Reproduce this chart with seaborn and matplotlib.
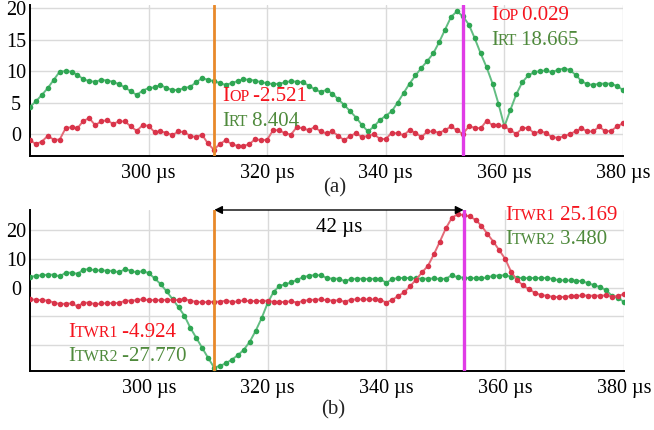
import numpy as np
import seaborn as sns
import matplotlib
matplotlib.use("Agg")
import matplotlib.pyplot as plt
from matplotlib.offsetbox import TextArea, HPacker, AnnotationBbox

# sample times, 1 us apart
t_us = np.arange(280, 381)

# panel (a): operating and restraint currents
i_rt = [4.3, 5.2, 6.2, 7.3, 8.6, 9.9, 10.0, 9.9, 9.4, 8.7,
        8.4, 8.3, 8.6, 8.5, 8.3, 7.9, 7.4, 6.8, 6.2, 6.9,
        7.3, 7.4, 7.8, 7.3, 7.0, 7.0, 7.3, 7.5, 8.2, 8.9,
        8.6, 8.4, 8.1, 7.8, 8.1, 8.4, 8.7, 8.6, 8.5, 8.2,
        8.1, 7.9, 8.0, 8.2, 8.4, 8.3, 8.2, 7.7, 7.1, 6.7,
        7.0, 6.4, 5.5, 4.6, 3.6, 2.6, 1.4, 0.4, 1.2, 2.2,
        2.9, 3.6, 5.0, 6.5, 8.0, 9.3, 10.5, 11.6, 12.8, 14.6,
        16.6, 18.6, 19.5, 18.7, 17.4, 15.2, 12.8, 10.6, 8.0, 4.8,
        1.2, 3.8, 6.3, 8.2, 9.3, 9.8, 10.0, 10.1, 9.8, 10.2,
        10.4, 10.2, 9.4, 8.4, 7.9, 7.8, 8.0, 8.0, 8.0, 7.6,
        7.0]
i_op = [-1.0, -1.6, -1.2, -0.3, -0.9, -0.9, 0.9, 1.1, 0.9, 2.1,
        2.5, 1.4, 2.0, 2.2, 1.6, 2.0, 2.0, 1.2, 0.5, 1.4,
        1.3, 0.3, 0.4, 0.2, -0.2, 0.4, 0.3, -0.3, -0.5, -0.1,
        -1.5, -2.5, -1.6, -1.0, -1.6, -1.9, -1.9, -1.6, -0.8, -1.0,
        -0.9, 0.6, 0.6, 0.1, -0.1, 1.1, 0.9, 0.6, 1.1, 0.4,
        0.1, 0.4, -0.3, -1.0, -0.3, 0.1, -0.5, -0.3, 0.0, -0.8,
        -0.8, 0.2, 0.1, -0.2, 0.6, 0.2, -0.5, 0.4, 0.4, 0.2,
        0.6, 1.2, 0.6, 0.0, 1.2, 1.0, 0.9, 2.1, 1.4, 1.4,
        1.2, 0.6, 0.0, 0.9, 1.0, 0.1, 0.4, 0.2, -0.5, -0.6,
        -0.4, 0.0, 0.4, 0.9, 0.4, 0.4, 1.2, 0.4, 0.5, 1.2,
        1.7]

# panel (b): travelling wave currents at both ends
i_twr1 = [-4.1, -4.2, -4.4, -4.5, -5.2, -5.7, -5.6, -5.5, -6.5, -5.3,
          -5.2, -5.8, -5.5, -5.4, -5.4, -5.3, -4.6, -4.5, -4.4, -4.0,
          -4.4, -4.3, -4.4, -4.2, -4.3, -4.3, -4.0, -4.5, -5.0, -5.1,
          -5.0, -4.9, -4.9, -4.5, -5.0, -4.8, -4.4, -4.8, -4.6, -4.7,
          -4.5, -5.0, -5.1, -4.9, -4.8, -5.2, -4.6, -4.3, -4.2, -4.1,
          -4.4, -4.5, -4.4, -4.9, -4.2, -4.1, -4.1, -4.1, -4.1, -4.3,
          -5.2, -4.2, -2.9, -1.6, 0.5, 2.8, 5.3, 7.6, 11.6, 16.0,
          20.6, 24.2, 25.6, 25.2, 24.8, 23.6, 21.5, 18.7, 16.0, 13.0,
          10.0, 5.5, 2.6, 0.8, -0.6, -1.8, -2.6, -2.8, -3.2, -3.3,
          -3.2, -3.0, -2.9, -2.7, -2.8, -2.8, -2.8, -2.7, -3.1, -2.9,
          -2.2]
i_twr2 = [3.7, 4.1, 4.3, 4.5, 4.5, 3.9, 5.2, 5.2, 4.8, 6.3,
          6.4, 6.0, 6.0, 5.9, 5.8, 5.3, 6.5, 5.8, 5.3, 5.8,
          5.0, 3.2, 1.2, -1.3, -4.0, -6.8, -9.8, -14.0, -17.5, -21.0,
          -24.5, -27.8, -27.2, -26.3, -25.0, -23.5, -21.6, -18.8, -15.0, -10.6,
          -5.4, -1.5, 0.6, 1.2, 1.8, 2.8, 3.6, 4.2, 4.3, 4.3,
          3.3, 3.1, 3.1, 2.2, 3.0, 3.1, 3.1, 3.0, 3.1, 2.9,
          1.7, 3.0, 3.3, 3.4, 3.3, 3.2, 3.1, 3.1, 3.2, 3.0,
          3.1, 4.3, 3.6, 3.5, 3.3, 3.3, 3.2, 3.6, 4.1, 4.2,
          4.3, 3.8, 3.5, 3.3, 3.3, 3.4, 3.3, 3.4, 3.0, 2.6,
          2.5, 2.5, 2.4, 2.2, 1.5, 0.8, 0.2, -0.9, -2.9, -3.6,
          -5.0]

cursor_a = 311
cursor_b = 353
x_ticks = [300, 320, 340, 360, 380]
x_labels = ["300 µs", "320 µs", "340 µs", "360 µs", "380 µs"]

SERIF = "Liberation Serif"
RED_LINE, RED_DOT = "#e46b78", "#d9344a"
GREEN_LINE, GREEN_DOT = "#62bd82", "#2fa653"
RED_TXT, GREEN_TXT = "#f5141e", "#4f8a3c"

sns.set_theme(style="white")
plt.rcParams["font.family"] = [SERIF, "DejaVu Sans"]

W, H = 654, 430
fig = plt.figure(figsize=(W / 100, H / 100), dpi=100)


def px_axes(left, top, right, bottom):
    return fig.add_axes([left / W, 1 - bottom / H, (right - left) / W, (bottom - top) / H])


ax_a = px_axes(30, 5, 623, 156)
ax_b = px_axes(30, 210, 624, 371)


def draw_trace(ax, y, line_color, dot_color):
    sns.lineplot(x=t_us, y=y, ax=ax, color=line_color, linewidth=1.4,
                 marker="o", markersize=4.0, markerfacecolor=dot_color,
                 markeredgecolor=dot_color, markeredgewidth=0, zorder=3)


def style_axes(ax, yticks, ylabels, ylim):
    ax.set_xlim(280, 380)
    ax.set_ylim(*ylim)
    ax.set_xticks(x_ticks)
    ax.set_xticklabels(x_labels)
    ax.set_yticks(yticks)
    ax.set_yticklabels(ylabels)
    ax.grid(True, color="#dadada", linewidth=1.0)
    ax.set_axisbelow(True)
    for side in ["top", "right"]:
        ax.spines[side].set_visible(False)
    for side in ["left", "bottom"]:
        ax.spines[side].set_color("black")
        ax.spines[side].set_linewidth(1.4)
    ax.tick_params(axis="x", length=0, pad=6, labelsize=14.5, colors="black")
    ax.tick_params(axis="y", length=0, pad=10, labelsize=14.5, colors="black")
    for lab in ax.get_yticklabels():
        lab.set_horizontalalignment("center")
    ax.set_xlabel("")
    ax.set_ylabel("")


draw_trace(ax_a, i_rt, GREEN_LINE, GREEN_DOT)
draw_trace(ax_a, i_op, RED_LINE, RED_DOT)
style_axes(ax_a, [0, 5, 10, 15, 20], ["0", "5", "10", "15", "20"], (-3.5, 20.5))

draw_trace(ax_b, i_twr2, GREEN_LINE, GREEN_DOT)
draw_trace(ax_b, i_twr1, RED_LINE, RED_DOT)
style_axes(ax_b, [-20, -10, 0, 10, 20], ["", "", "0", "10", "20"], (-29, 27))

for ax in (ax_a, ax_b):
    ax.axvline(cursor_a, color="#e8892a", linewidth=2.0, zorder=4)
    ax.axvline(cursor_b, color="#e03ce6", linewidth=2.4, zorder=4)

# time difference arrow between the cursors
ax_b.annotate("", xy=(cursor_a, 27), xytext=(cursor_b, 27),
              arrowprops=dict(arrowstyle="<|-|>", color="black", lw=1.0,
                              mutation_scale=12, shrinkA=0, shrinkB=0),
              annotation_clip=False)
ax_b.text((cursor_a + cursor_b) / 2, 21, "42 µs", ha="center", va="center",
          fontsize=15, color="black")


def cursor_label(left, baseline, base, sub, value, color):
    big = dict(color=color, fontsize=15, family=SERIF)
    small = dict(color=color, fontsize=11.5, family=SERIF)
    box = HPacker(children=[TextArea(base, textprops=big),
                            TextArea(sub, textprops=small),
                            TextArea("\u2009" + value, textprops=big)],
                  align="baseline", pad=0, sep=0)
    ab = AnnotationBbox(box, (left, H - baseline - 4), xycoords="figure pixels",
                        box_alignment=(0, 0), frameon=False, pad=0,
                        annotation_clip=False)
    fig.add_artist(ab)


cursor_label(222, 102, "I", "OP", "-2.521", RED_TXT)
cursor_label(222, 127, "I", "RT", "8.404", GREEN_TXT)
cursor_label(491, 21, "I", "OP", "0.029", RED_TXT)
cursor_label(491, 46, "I", "RT", "18.665", GREEN_TXT)
cursor_label(68, 338, "I", "TWR1", "-4.924", RED_TXT)
cursor_label(68, 362, "I", "TWR2", "-27.770", GREEN_TXT)
cursor_label(505, 221, "I", "TWR1", "25.169", RED_TXT)
cursor_label(505, 245, "I", "TWR2", "3.480", GREEN_TXT)

fig.text(335 / W, 1 - 188 / H, "(a)", ha="center", va="center", fontsize=15)
fig.text(333 / W, 1 - 410 / H, "(b)", ha="center", va="center", fontsize=15)

fig.savefig("out.png", dpi=100)
